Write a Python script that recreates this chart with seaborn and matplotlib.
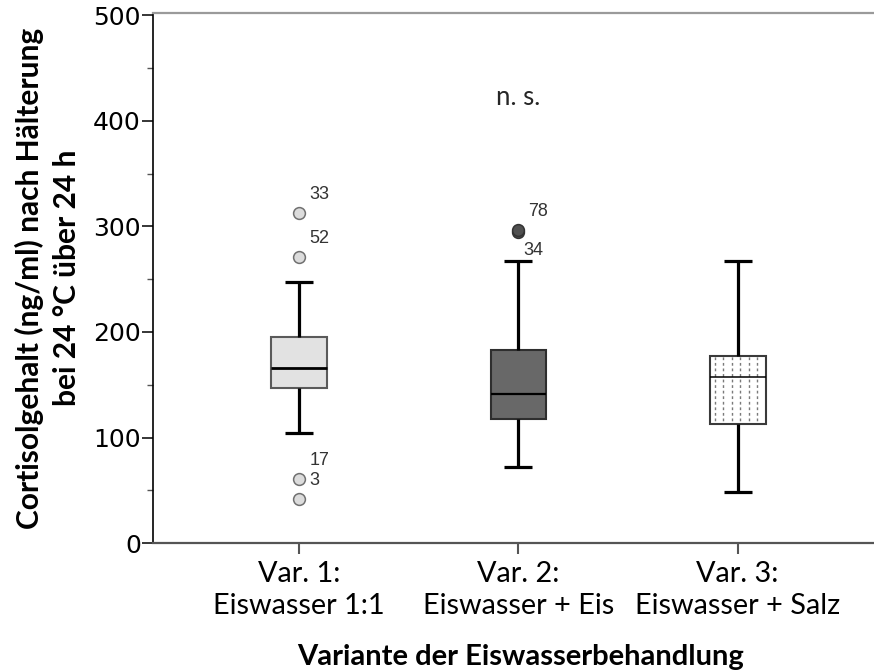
import numpy as np
import pandas as pd
import seaborn as sns
import matplotlib.pyplot as plt
from matplotlib.ticker import MultipleLocator

# Werte (ng/ml)
variants = ["Var. 1:\nEiswasser 1:1", "Var. 2:\nEiswasser + Eis", "Var. 3:\nEiswasser + Salz"]
var1 = [42, 61, 104, 147, 153, 160, 166, 175, 186, 195.5, 247, 271, 313]
var2 = [72.5, 92, 106, 117.5, 125, 134, 141, 152, 168, 182.5, 267.5, 295, 297]
var3 = [48.5, 76, 98, 113, 132, 148, 157.5, 163, 170, 177.5, 205, 240, 267.5]
case_ids = {313: "33", 271: "52", 61: "17", 42: "3", 297: "78", 295: "34"}
sig_text = "n. s."
sig_y = 422

box_fill = ["#e2e2e2", "#686868", "#ffffff"]
box_edge = ["#5a5a5a", "#2e2e2e", "#3a3a3a"]
flier_fill = ["#dcdcdc", "#505050", "#dcdcdc"]
flier_edge = ["#707070", "#333333", "#707070"]
median_lw = [2.0, 1.6, 1.1]

df = pd.DataFrame({
    "Variante": np.repeat(variants, [len(var1), len(var2), len(var3)]),
    "Cortisol": var1 + var2 + var3,
})

sns.set_style("ticks")
plt.rcParams["font.family"] = ["Lato", "DejaVu Sans"]

fig = plt.figure(figsize=(8.74, 6.72), dpi=100)
ax = fig.add_axes([153.3 / 874, 1 - 543.3 / 672, (874 - 153.3) / 874, (543.3 - 12.7) / 672])

sns.boxplot(
    data=df, x="Variante", y="Cortisol", hue="Variante",
    order=variants, hue_order=variants, palette=box_fill,
    saturation=1, width=0.255, whis=1.5, legend=False,
    linewidth=1.5, fliersize=8, ax=ax,
)

for i, c in enumerate(ax.containers):
    for b in c.boxes:
        b.set_facecolor(box_fill[i])
        b.set_edgecolor(box_edge[i])
        b.set_linewidth(1.5)
        b.set_zorder(2)
    for m in c.medians:
        m.set_color("black")
        m.set_linewidth(median_lw[i])
        m.set_zorder(3)
    for w in list(c.whiskers) + list(c.caps):
        w.set_color("black")
        w.set_linewidth(2.3)
        w.set_solid_capstyle("butt")
    for f in c.fliers:
        f.set_marker("o")
        f.set_markersize(8.5)
        f.set_markerfacecolor(flier_fill[i])
        f.set_markeredgecolor(flier_edge[i])
        f.set_markeredgewidth(1.1)
        xs, ys = f.get_xdata(), f.get_ydata()
        for x, y in zip(xs, ys):
            lab = case_ids.get(float(y), case_ids.get(int(round(y)), ""))
            if lab == "34":
                off = (5, -19)
            else:
                off = (10, 18)
            ax.annotate(lab, xy=(x, y), xytext=off, textcoords="offset pixels",
                        ha="left", va="center", fontsize=13, color="#333333",
                        family="Liberation Sans")

# gepunktete Schraffur der dritten Box
box3 = ax.containers[2].boxes[0]
hatch_x = 2 + np.arange(-0.105, 0.12, 0.039)
lc = ax.vlines(hatch_x, 0, 500, colors="#7a7a7a", linewidth=1.0,
               linestyles=(0, (2, 2)), zorder=2.5)
lc.set_clip_path(box3)

ax.text(1, sig_y, sig_text, ha="center", va="center", fontsize=18.5)

ax.set_xlim(-0.666, 2.622)
ax.set_ylim(0, 502.2)
ax.set_yticks(range(0, 501, 100))
ax.yaxis.set_minor_locator(MultipleLocator(50))

ax.tick_params(axis="y", which="major", length=8, width=1.1, pad=1,
               labelsize=18, labelfontfamily="DejaVu Sans", color="black")
ax.tick_params(axis="y", which="minor", length=4, width=1.0, color="#555555")
ax.tick_params(axis="x", length=8, width=1.5, color="#555555", pad=5, labelsize=20.8)
for t in ax.get_xticklabels():
    t.set_linespacing(1.25)
    t.set_color("black")
for t in ax.get_yticklabels():
    t.set_color("black")

ax.spines["right"].set_visible(False)
ax.spines["left"].set_color("black")
ax.spines["left"].set_linewidth(1.2)
ax.spines["bottom"].set_color("#555555")
ax.spines["bottom"].set_linewidth(1.6)
ax.spines["top"].set_color("#9a9a9a")
ax.spines["top"].set_linewidth(1.6)

ax.set_xlabel("Variante der Eiswasserbehandlung", fontsize=21, fontweight="bold", color="black")
ax.xaxis.set_label_coords(0.51, -0.19)
ax.set_ylabel("Cortisolgehalt (ng/ml) nach Hälterung\nbei 24 °C über 24 h",
              fontsize=21.5, fontweight="bold", linespacing=1.35, color="black")
ax.yaxis.set_label_coords(-0.101, 0.5)

fig.savefig("out.png", dpi=100)
